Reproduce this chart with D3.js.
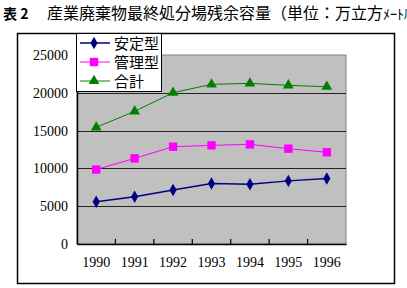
<!DOCTYPE html>
<html>
<head>
<meta charset="utf-8">
<script src="https://cdn.jsdelivr.net/npm/d3@7"></script>
<style>
body { margin: 0; background: #fff; overflow: hidden; }
svg { display: block; }
</style>
</head>
<body>
<svg width="407" height="288"></svg>
<script>
// data
var years = ['1990', '1991', '1992', '1993', '1994', '1995', '1996'];
var antei = [5600, 6250, 7150, 8000, 7900, 8350, 8650];
var kanri = [9850, 11330, 12870, 13050, 13180, 12610, 12130];
var goukei = [15430, 17550, 20010, 21120, 21250, 20990, 20800];
var yTicks = [0, 5000, 10000, 15000, 20000, 25000];
var names = ['安定型', '管理型', '合計'];

var svg = d3.select('svg');

// title
var title = svg.append('text').attr('x', 3).attr('y', 19)
  .style('font-family', '"Noto Sans CJK JP"').style('font-size', '16px').attr('fill', '#000');
title.append('tspan').style('font-weight', 'bold').style('font-size', '14px').text('表 2');
title.append('tspan').attr('x', 47).text('産業廃棄物最終処分場残余容量（単位：万立方');
title.append('tspan').style('font-size', '14px').text('ﾒｰﾄﾙ）');

// outer frame
svg.append('rect').attr('x', 17.5).attr('y', 33.5).attr('width', 377).attr('height', 250)
  .attr('fill', 'none').attr('stroke', '#000').attr('stroke-width', 1.5);

var pL = 77, pR = 346, pT = 55, pB = 244;

var x = d3.scaleBand().domain(years).range([pL, pR]);
var y = d3.scaleLinear().domain([0, 25000]).range([pB, pT]);

// plot area
svg.append('rect').attr('x', pL).attr('y', pT).attr('width', pR - pL).attr('height', pB - pT)
  .attr('fill', '#c0c0c0').attr('stroke', '#808080').attr('stroke-width', 1);

// gridlines
svg.append('g').selectAll('line').data(yTicks.slice(1, 5)).join('line')
  .attr('x1', pL).attr('x2', pR)
  .attr('y1', function(d) { return Math.round(y(d)) + 0.5; })
  .attr('y2', function(d) { return Math.round(y(d)) + 0.5; })
  .attr('stroke', '#222').attr('stroke-width', 1.2);

// y axis
var ya = svg.append('g').attr('transform', 'translate(' + pL + ',0)')
  .call(d3.axisLeft(y).tickValues(yTicks).tickSize(0).tickPadding(9).tickFormat(d3.format('d')));
ya.select('.domain').attr('stroke', '#000').attr('stroke-width', 1.5);
ya.selectAll('text').style('font-family', '"Liberation Serif"').style('font-size', '14px').attr('fill', '#000');

// x axis with inward ticks at category boundaries
var xa = svg.append('g').attr('transform', 'translate(0,' + pB + ')')
  .call(d3.axisBottom(x).tickSize(0).tickPadding(13));
xa.select('.domain').attr('stroke', '#000').attr('stroke-width', 1.5);
xa.selectAll('text').style('font-family', '"Liberation Serif"').style('font-size', '14px').attr('fill', '#000');
xa.selectAll('line.bound').data(years.slice(1)).join('line').attr('class', 'bound')
  .attr('x1', function(d) { return x(d); }).attr('x2', function(d) { return x(d); })
  .attr('y1', 0).attr('y2', -5).attr('stroke', '#000').attr('stroke-width', 1.2);

var series = [
  { name: names[0], values: antei, color: '#000080', sym: d3.symbolDiamond, size: 45, w: 1.5 },
  { name: names[1], values: kanri, color: '#ff00ff', sym: d3.symbolSquare, size: 70, w: 1 },
  { name: names[2], values: goukei, color: '#008000', sym: d3.symbolTriangle, size: 50, w: 1 }
];

var cx = function(i) { return x(years[i]) + x.bandwidth() / 2; };
var line = d3.line().x(function(d, i) { return cx(i); }).y(function(d) { return y(d); });

series.forEach(function(s) {
  svg.append('path').attr('d', line(s.values)).attr('fill', 'none')
    .attr('stroke', s.color).attr('stroke-width', s.w);
  svg.append('g').selectAll('path').data(s.values).join('path')
    .attr('d', d3.symbol().type(s.sym).size(s.size))
    .attr('transform', function(d, i) { return 'translate(' + cx(i) + ',' + y(d) + ')'; })
    .attr('fill', s.color);
});

// legend
var lg = svg.append('g');
lg.append('rect').attr('x', 76.5).attr('y', 33.5).attr('width', 85).attr('height', 58)
  .attr('fill', '#fff').attr('stroke', '#000').attr('stroke-width', 1);
series.forEach(function(s, i) {
  var ly = 43 + i * 19;
  lg.append('line').attr('x1', 80).attr('x2', 110).attr('y1', ly).attr('y2', ly)
    .attr('stroke', s.color).attr('stroke-width', s.w);
  lg.append('path').attr('d', d3.symbol().type(s.sym).size(s.size))
    .attr('transform', 'translate(94,' + ly + ')').attr('fill', s.color);
  lg.append('text').attr('x', 114).attr('y', ly + 5.5).text(s.name)
    .style('font-family', '"Noto Sans CJK JP"').style('font-size', '15px').attr('fill', '#000');
});
</script>
</body>
</html>
